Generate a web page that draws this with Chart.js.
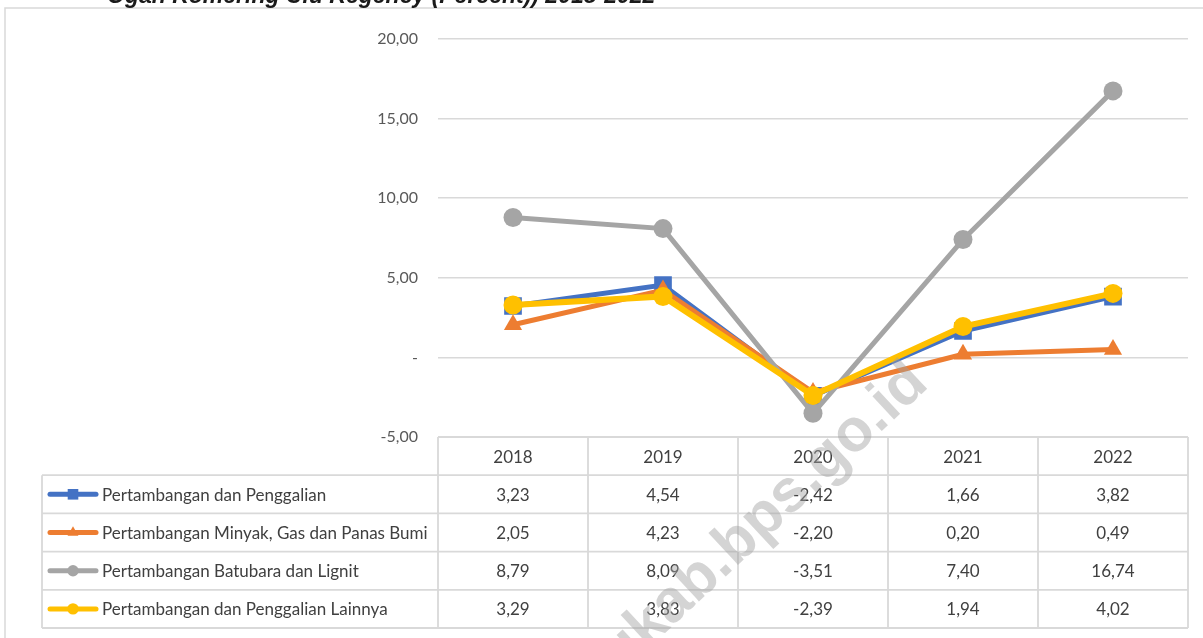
<!DOCTYPE html>
<html>
<head>
<meta charset="utf-8">
<script src="https://cdn.jsdelivr.net/npm/chart.js@4.4.1/dist/chart.umd.min.js"></script>
<style>
  html, body { margin: 0; padding: 0; background: #fff; }
  #wrap { width: 1203px; height: 638px; }
</style>
</head>
<body>
<div id="wrap"><canvas id="chart" width="1203" height="638"></canvas></div>
<script>
// =======================
// Data
// =======================
const years = ['2018', '2019', '2020', '2021', '2022'];
const seriesNames = [
    'Pertambangan dan Penggalian',
    'Pertambangan Minyak, Gas dan Panas Bumi',
    'Pertambangan Batubara dan Lignit',
    'Pertambangan dan Penggalian Lainnya'
];
const penggalian = [3.23, 4.54, -2.42, 1.66, 3.82];
const minyakGas = [2.05, 4.23, -2.20, 0.20, 0.49];
const batubara = [8.79, 8.09, -3.51, 7.40, 16.74];
const lainnya = [3.29, 3.83, -2.39, 1.94, 4.02];
const yMin = -5, yMax = 20, yStep = 5;

const titleText = 'Ogan Komering Ulu Regency (Percent)) 2018-2022';
const watermark = 'ogankomeringulukab.bps.go.id';

const colors = ['#4472C4', '#ED7D31', '#A5A5A5', '#FFC000'];
const markers = ['rect', 'triangle', 'circle', 'circle'];
const markerSize = [12.5, 10.5, 9.5, 9.5];
const seriesValues = [penggalian, minyakGas, batubara, lainnya];

const baseFont = 'Lato, "Open Sans", sans-serif';
const fmt = v => v === 0 ? '-' : v.toFixed(2).replace('.', ',');

// =======================
// Plugin: outer frame, title, data table, watermark
// =======================
const decorPlugin = {
    id: 'decor',
    beforeDraw(chart) {
        const ctx = chart.ctx;
        ctx.save();
        ctx.strokeStyle = '#d9d9d9';
        ctx.lineWidth = 1.5;
        ctx.strokeRect(5, 8, 1215, 640);
        ctx.fillStyle = '#1a1a1a';
        ctx.font = 'italic bold 23px "Liberation Sans", Arial, sans-serif';
        ctx.textAlign = 'left';
        ctx.textBaseline = 'alphabetic';
        ctx.fillText(titleText, 107, 3);
        ctx.restore();
    },
    afterDraw(chart) {
        const ctx = chart.ctx;
        const area = chart.chartArea;
        const x = chart.scales.x;
        const rowH = 38.2;
        const top = area.bottom;
        const tableLeft = 42;
        const half = (x.getPixelForValue(1) - x.getPixelForValue(0)) / 2;
        const bottom = top + rowH * (seriesNames.length + 1);

        ctx.save();
        ctx.strokeStyle = '#d9d9d9';
        ctx.lineWidth = 1.8;
        ctx.beginPath();
        // horizontal lines
        ctx.moveTo(area.left, top); ctx.lineTo(area.right, top);
        for (let r = 1; r <= seriesNames.length + 1; r++) {
            ctx.moveTo(tableLeft, top + rowH * r);
            ctx.lineTo(area.right, top + rowH * r);
        }
        // vertical lines
        ctx.moveTo(tableLeft, top + rowH); ctx.lineTo(tableLeft, bottom);
        years.forEach((y, i) => {
            const cx = x.getPixelForValue(i);
            ctx.moveTo(cx - half, top); ctx.lineTo(cx - half, bottom);
        });
        ctx.moveTo(area.right, top); ctx.lineTo(area.right, bottom);
        ctx.stroke();

        // year header
        ctx.fillStyle = '#404040';
        ctx.font = '17px ' + baseFont;
        ctx.textAlign = 'center';
        ctx.textBaseline = 'middle';
        years.forEach((y, i) => ctx.fillText(y, x.getPixelForValue(i), top + rowH / 2 + 1));

        // rows
        seriesNames.forEach((name, s) => {
            const cy = top + rowH * (s + 1) + rowH / 2;
            ctx.strokeStyle = colors[s];
            ctx.lineWidth = 5;
            ctx.lineCap = 'round';
            ctx.beginPath();
            ctx.moveTo(50, cy); ctx.lineTo(96, cy);
            ctx.stroke();
            ctx.fillStyle = colors[s];
            ctx.strokeStyle = colors[s];
            Chart.helpers.drawPoint(ctx, {
                pointStyle: markers[s], radius: markerSize[s] * 0.6, rotation: 0, borderWidth: 0
            }, 73, cy);

            ctx.fillStyle = '#404040';
            ctx.textAlign = 'left';
            ctx.fillText(name, 102, cy + 1);
            ctx.textAlign = 'center';
            seriesValues[s].forEach((v, i) => ctx.fillText(fmt(v), x.getPixelForValue(i), cy + 1));
        });

        // watermark
        ctx.translate(930, 386);
        ctx.rotate(-43 * Math.PI / 180);
        ctx.font = 'bold 60px "Liberation Sans", Arial, sans-serif';
        ctx.fillStyle = 'rgba(160,160,160,0.45)';
        ctx.textAlign = 'right';
        ctx.textBaseline = 'alphabetic';
        ctx.fillText(watermark, 0, 0);
        ctx.restore();
    }
};

// =======================
// Chart
// =======================
const datasets = seriesNames.map((name, s) => ({
    label: name,
    data: seriesValues[s],
    borderColor: colors[s],
    backgroundColor: colors[s],
    borderWidth: s === 3 ? 6 : 5,
    pointStyle: markers[s],
    pointRadius: markerSize[s],
    pointHoverRadius: markerSize[s],
    pointBackgroundColor: colors[s],
    pointBorderColor: colors[s],
    pointBorderWidth: 0,
    tension: 0,
    order: seriesNames.length - 1 - s // last series drawn on top
}));

new Chart(document.getElementById('chart').getContext('2d'), {
    type: 'line',
    data: { labels: years, datasets },
    options: {
        responsive: false,
        animation: false,
        layout: { padding: { left: 0, top: 39, right: 15, bottom: 201 } },
        plugins: {
            legend: { display: false },
            title: { display: false },
            tooltip: { enabled: false }
        },
        scales: {
            x: { display: false, offset: true },
            y: {
                min: yMin,
                max: yMax,
                afterFit: scale => { scale.width = 438; },
                border: { display: false },
                grid: { color: '#d9d9d9', lineWidth: 1.5, drawTicks: false },
                ticks: {
                    stepSize: yStep,
                    padding: 20,
                    color: '#595959',
                    font: { family: baseFont, size: 16 },
                    callback: v => fmt(v)
                }
            }
        }
    },
    plugins: [decorPlugin]
});
</script>
</body>
</html>
